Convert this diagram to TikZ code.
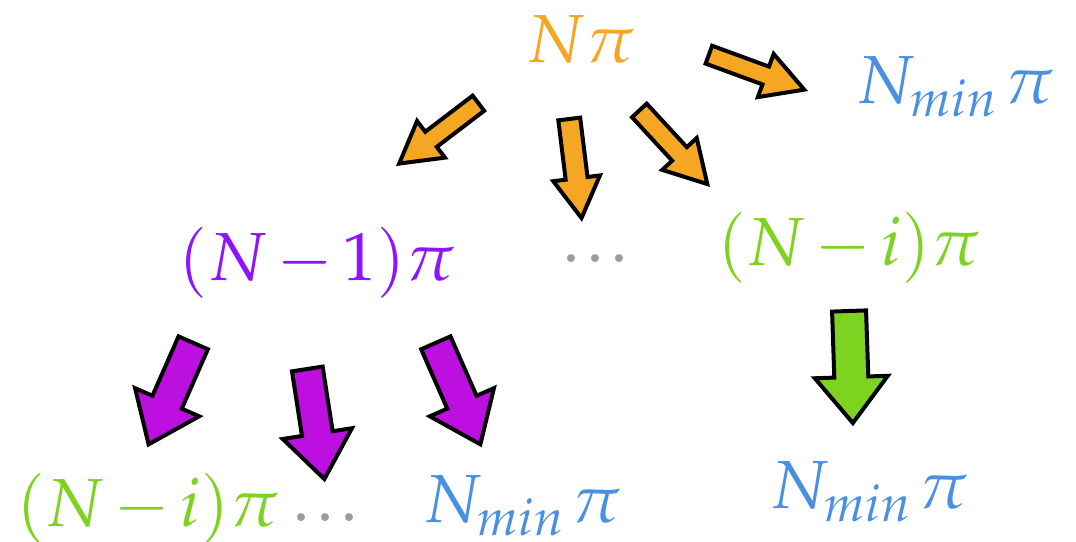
\documentclass[tikz,border=0pt]{standalone}
\usepackage{mathpazo}
\usetikzlibrary{calc}
\definecolor{corange}{HTML}{F5A623}
\definecolor{cpurple}{HTML}{9013FE}
\definecolor{cmagenta}{HTML}{BD10E0}
\definecolor{cgreen}{HTML}{7ED321}
\definecolor{cblue}{HTML}{4A90E2}
\definecolor{cgray}{HTML}{9B9B9B}
\tikzset{
  lbl/.style={inner sep=0pt, anchor=base, font=\fontsize{68}{80}\selectfont},
  dotslbl/.style={inner sep=0pt, anchor=base, font=\fontsize{96}{100}\selectfont, text=cgray},
  barrowline/.style={draw=black, line width=4pt, line join=miter, miter limit=20}
}
\newcommand\Nmin{N_{min}\mkern2mu\pi}
% #1 fill colour, #2 tail, #3 tip, #4 shaft half width, #5 head half width, #6 head length
\newcommand\blockarrow[6]{%
  \coordinate (ba-t) at ($(#2)!2pt!(#3)$);
  \coordinate (ba-p) at ($(#3)!4pt!(#2)$);
  \coordinate (ba-h) at ($(ba-p)!#6!(ba-t)$);
  \draw[barrowline, fill=#1]
    ($(ba-t)!#4!90:(ba-p)$) -- ($(ba-h)!#4!-90:(ba-t)$) -- ($(ba-h)!#5!-90:(ba-t)$)
    -- (ba-p) -- ($(ba-h)!#5!90:(ba-t)$) -- ($(ba-h)!#4!90:(ba-t)$)
    -- ($(ba-t)!#4!-90:(ba-p)$) -- cycle;
}
\begin{document}
\medmuskip=2.5mu
\begin{tikzpicture}[x=1pt,y=-1pt]
\useasboundingbox (0,0) rectangle (1076,541);
% labels
\node[lbl, text=corange] (top) at (581,62) {$N\pi$};
\node[lbl, text=cblue] (mintop) at (955,103) {$\Nmin$};
\node[lbl, text=cpurple] (nm1) at (317,280) {$(N-1)\pi$};
\node[dotslbl] (dots1) at (595,262) {...};
\node[lbl, text=cgreen] (nmi) at (849,265) {$(N-i)\pi$};
\node[lbl, text=cgreen] (nmib) at (148,526) {$(N-i)\pi$};
\node[dotslbl] (dots2) at (325,521) {...};
\node[lbl, text=cblue] (minb) at (522,522) {$\Nmin$};
\node[lbl, text=cblue] (minr) at (869,508) {$\Nmin$};
% arrow end points
\coordinate (a1t) at (480,102); \coordinate (a1p) at (396,166);
\coordinate (a2t) at (569,117); \coordinate (a2p) at (582,222);
\coordinate (a3t) at (638,109); \coordinate (a3p) at (710,187);
\coordinate (a4t) at (707,54);  \coordinate (a4p) at (808,91);
\coordinate (p1t) at (194,341); \coordinate (p1p) at (147,448);
\coordinate (p2t) at (307,367); \coordinate (p2p) at (325,483);
\coordinate (p3t) at (435,341); \coordinate (p3p) at (482,448);
\coordinate (g1t) at (849,309); \coordinate (g1p) at (853,427);
% block arrows
\blockarrow{corange}{a1t}{a1p}{9.5pt}{23pt}{40pt}
\blockarrow{corange}{a2t}{a2p}{11pt}{23.5pt}{40pt}
\blockarrow{corange}{a3t}{a3p}{10pt}{23.5pt}{41pt}
\blockarrow{corange}{a4t}{a4p}{9.5pt}{23pt}{41pt}
\blockarrow{cmagenta}{p1t}{p1p}{16pt}{35pt}{46pt}
\blockarrow{cmagenta}{p2t}{p2p}{15.5pt}{35pt}{46pt}
\blockarrow{cmagenta}{p3t}{p3p}{16pt}{35pt}{46pt}
\blockarrow{cgreen}{g1t}{g1p}{17pt}{36.5pt}{46pt}
\end{tikzpicture}
\end{document}
